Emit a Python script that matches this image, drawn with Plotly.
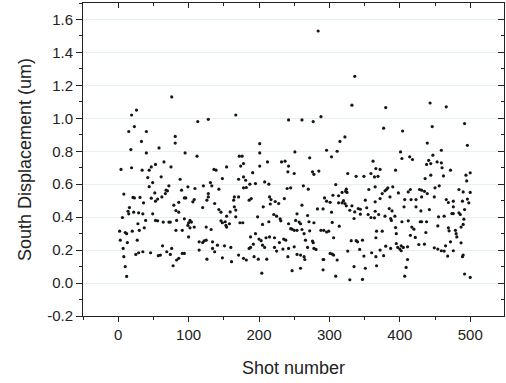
import plotly.graph_objects as go

# Shot number / south displacement (um), in x-range groups
shot_a = [26,19,23,15,40,33,18,40,53,4,19,34,44,47,42,49,44,8,21,23,31,36,47,52,53,16,14,6,15,22,29,35,28,39,49,53,2,10,12,20,30,37,3,13,27,7,25,29,35,46,8,10,12]
disp_a = [1.05,1.02,0.95,0.92,0.92,0.86,0.81,0.79,0.72,0.69,0.70,0.685,0.685,0.705,0.64,0.61,0.585,0.54,0.52,0.517,0.52,0.487,0.515,0.547,0.497,0.458,0.436,0.398,0.42,0.43,0.426,0.42,0.36,0.38,0.42,0.38,0.315,0.307,0.30,0.315,0.32,0.335,0.26,0.246,0.26,0.21,0.174,0.184,0.19,0.184,0.16,0.10,0.04]

shot_b = [76,113,81,81,58,95,112,65,75,61,88,72,68,70,90,99,109,62,56,67,94,96,106,108,86,79,86,82,94,72,74,83,100,102,104,99,56,64,82,91,102,108,100,63,76,115,115,57,60,69,74,91,94,86,83,78]
disp_b = [1.13,0.98,0.89,0.85,0.82,0.79,0.77,0.735,0.705,0.645,0.63,0.59,0.564,0.56,0.564,0.584,0.574,0.523,0.51,0.543,0.517,0.517,0.493,0.507,0.49,0.473,0.43,0.44,0.39,0.37,0.37,0.38,0.366,0.38,0.37,0.35,0.378,0.37,0.32,0.32,0.335,0.34,0.28,0.226,0.21,0.25,0.20,0.166,0.17,0.19,0.174,0.18,0.18,0.15,0.14,0.105]

shot_c = [128,167,136,139,154,172,176,174,178,148,171,178,121,131,133,143,178,128,128,126,137,165,164,171,120,143,146,159,165,167,154,167,177,125,146,148,152,153,154,158,173,132,120,122,125,134,141,151,160,134,137,148,171,126,161,178]
disp_c = [0.994,1.02,0.69,0.685,0.705,0.77,0.77,0.71,0.725,0.634,0.63,0.644,0.59,0.61,0.59,0.57,0.578,0.543,0.523,0.503,0.483,0.523,0.503,0.523,0.458,0.446,0.43,0.432,0.463,0.443,0.406,0.402,0.366,0.34,0.378,0.366,0.372,0.35,0.34,0.36,0.366,0.325,0.246,0.256,0.26,0.25,0.23,0.226,0.216,0.21,0.19,0.153,0.17,0.145,0.13,0.15]

shot_d = [242,201,201,201,212,232,237,241,191,181,187,195,208,214,182,240,186,189,215,217,223,228,236,216,206,221,198,225,230,231,214,205,195,188,200,203,210,215,235,238,222,229,205,208,192,186,188,222,225,234,199,211,182,193,241,204]
disp_d = [0.99,0.846,0.79,0.71,0.735,0.735,0.74,0.675,0.67,0.624,0.60,0.604,0.614,0.60,0.58,0.574,0.503,0.513,0.523,0.507,0.495,0.483,0.513,0.48,0.463,0.416,0.402,0.406,0.39,0.378,0.372,0.356,0.30,0.28,0.267,0.257,0.275,0.28,0.267,0.26,0.275,0.246,0.23,0.216,0.236,0.21,0.216,0.216,0.194,0.206,0.145,0.145,0.14,0.16,0.16,0.06]

shot_e = [284,261,277,288,251,272,296,303,242,250,276,278,285,245,263,270,261,254,293,296,301,303,283,291,269,271,252,257,259,245,247,250,254,261,264,272,288,292,296,299,278,242,266,276,277,278,281,250,254,259,264,265,269,242,259,247,291,292,301,304,291]
disp_e = [1.53,0.99,0.98,1.01,0.796,0.76,0.806,0.766,0.71,0.665,0.675,0.66,0.68,0.578,0.59,0.57,0.473,0.42,0.517,0.497,0.49,0.43,0.45,0.45,0.41,0.372,0.38,0.37,0.36,0.33,0.327,0.32,0.32,0.325,0.30,0.317,0.32,0.32,0.31,0.315,0.366,0.36,0.26,0.255,0.245,0.21,0.204,0.22,0.174,0.17,0.16,0.143,0.216,0.21,0.09,0.075,0.143,0.143,0.18,0.176,0.08]

shot_f = [336,332,322,315,311,362,326,338,349,359,366,364,309,324,323,325,356,305,313,318,320,351,353,365,313,318,322,324,332,341,344,329,336,335,344,355,359,364,304,314,306,331,338,340,347,366,326,343,349,311,360,366,306,335,351,309,329,347]
disp_f = [1.255,1.08,0.887,0.86,0.80,0.74,0.665,0.648,0.648,0.665,0.695,0.644,0.598,0.57,0.557,0.55,0.568,0.533,0.53,0.55,0.50,0.503,0.457,0.493,0.487,0.487,0.483,0.469,0.469,0.452,0.448,0.442,0.432,0.392,0.418,0.416,0.398,0.396,0.368,0.345,0.275,0.257,0.257,0.25,0.26,0.275,0.194,0.204,0.164,0.14,0.184,0.16,0.17,0.10,0.09,0.042,0.02,0.022]

shot_g = [380,377,404,401,403,414,418,394,372,369,381,383,379,390,365,372,375,386,398,412,415,407,416,423,428,385,406,365,389,423,370,379,387,388,393,412,403,417,420,367,375,394,395,415,422,395,402,380,397,400,402,405,411,427,387,372,377,411,409,407,367]
disp_g = [1.065,0.94,0.923,0.796,0.756,0.766,0.75,0.685,0.69,0.648,0.568,0.578,0.56,0.584,0.584,0.513,0.543,0.523,0.547,0.553,0.568,0.507,0.507,0.507,0.568,0.452,0.463,0.436,0.438,0.463,0.416,0.406,0.392,0.38,0.406,0.378,0.372,0.34,0.327,0.315,0.315,0.337,0.30,0.29,0.277,0.24,0.226,0.224,0.216,0.206,0.196,0.216,0.22,0.234,0.21,0.20,0.166,0.143,0.095,0.042,0.105]

shot_h = [443,466,446,492,439,459,447,441,444,438,453,459,460,472,436,444,462,450,456,484,431,435,439,449,466,469,476,489,431,476,430,442,463,474,476,484,486,491,455,454,429,431,438,487,469,470,479,480,481,435,487,437,449,454,465,472,459,463,468,476,489,490]
disp_h = [1.093,1.07,0.95,0.968,0.85,0.806,0.776,0.745,0.725,0.72,0.735,0.73,0.70,0.685,0.634,0.655,0.65,0.578,0.59,0.568,0.564,0.557,0.543,0.523,0.507,0.489,0.497,0.497,0.523,0.463,0.438,0.446,0.406,0.422,0.422,0.426,0.416,0.388,0.402,0.347,0.372,0.372,0.372,0.34,0.335,0.317,0.32,0.30,0.28,0.236,0.244,0.307,0.214,0.206,0.226,0.25,0.196,0.194,0.164,0.196,0.16,0.17]

shot_i = [496,494,500,495,490,500,496,498,492,490,492,500]
disp_i = [0.836,0.655,0.669,0.62,0.553,0.55,0.51,0.487,0.446,0.356,0.055,0.034]

shot = shot_a + shot_b + shot_c + shot_d + shot_e + shot_f + shot_g + shot_h + shot_i
disp = disp_a + disp_b + disp_c + disp_d + disp_e + disp_f + disp_g + disp_h + disp_i

x_ticks = [0, 100, 200, 300, 400, 500]
y_ticks = [-0.2, 0.0, 0.2, 0.4, 0.6, 0.8, 1.0, 1.2, 1.4, 1.6]
y_labels = [f"{v:.1f}" for v in y_ticks]

x_range = [-50, 548]
y_range = [-0.2, 1.70]

FONT = "Liberation Sans, Arial, sans-serif"

fig = go.Figure()
fig.add_trace(go.Scatter(
    x=shot, y=disp, mode="markers",
    marker=dict(size=3.2, color="#151515", line=dict(width=0)),
    showlegend=False, hoverinfo="skip"))
fig.add_trace(go.Scatter(x=[None], y=[None], xaxis="x2", yaxis="y2",
                         showlegend=False, hoverinfo="skip"))

axis_common = dict(showline=True, linecolor="#222", linewidth=1, zeroline=False)

fig.update_layout(
    width=506, height=383,
    margin=dict(l=83, r=2, t=3, b=67),
    paper_bgcolor="white", plot_bgcolor="white",
    font=dict(family=FONT, size=15, color="#222"),
    xaxis=dict(**axis_common, range=x_range, tickvals=x_ticks, ticks="outside",
               ticklen=5, tickwidth=1, tickcolor="#222", showgrid=False,
               minor=dict(dtick=50, tick0=0, ticks="outside", ticklen=3, tickcolor="#222"),
               title=dict(text="Shot number", standoff=19), tickfont=dict(size=15)),
    yaxis=dict(**axis_common, range=y_range, tickvals=y_ticks, ticktext=y_labels,
               ticks="outside", ticklen=6, tickwidth=1, tickcolor="#222",
               showgrid=True, gridcolor="#e3f1f0", gridwidth=1,
               minor=dict(dtick=0.1, tick0=0, ticks="outside", ticklen=3, tickcolor="#222", showgrid=False),
               title=dict(text="South Displacement (um)", standoff=10), tickfont=dict(size=15)),
    xaxis2=dict(**axis_common, overlaying="x", side="top", range=x_range,
                tickvals=x_ticks, ticks="inside", ticklen=5, tickcolor="#222",
                showticklabels=False, showgrid=False,
                minor=dict(dtick=50, tick0=0, ticks="inside", ticklen=3, tickcolor="#222")),
    yaxis2=dict(**axis_common, overlaying="y", side="right", range=y_range,
                tickvals=y_ticks, ticks="inside", ticklen=6, tickcolor="#222",
                showticklabels=False, showgrid=False,
                minor=dict(dtick=0.1, tick0=0, ticks="inside", ticklen=3, tickcolor="#222")),
)

fig.write_html("out.html")
